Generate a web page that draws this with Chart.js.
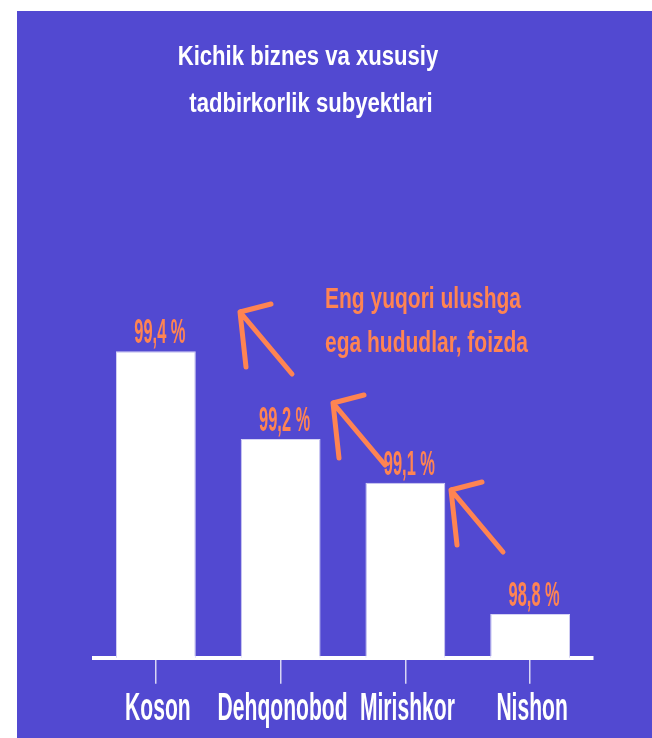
<!DOCTYPE html>
<html>
<head>
<meta charset="utf-8">
<script src="https://cdn.jsdelivr.net/npm/chart.js@4.4.0/dist/chart.umd.min.js"></script>
<style>
  html, body { margin: 0; padding: 0; background: #ffffff; }
  #bg { position: absolute; left: 17px; top: 11px; right: 0; bottom: 0; background: #5249d1; }
  #wrap { position: absolute; left: 0; top: 0; width: 652px; height: 738px; }
</style>
</head>
<body>
<div id="bg"></div>
<div id="wrap"><canvas id="regionChart"></canvas></div>
<script>
const regions = ["Koson", "Dehqonobod", "Mirishkor", "Nishon"];
const shares = [99.4, 99.2, 99.1, 98.8];
const titleLines = ["Kichik biznes va xususiy", "tadbirkorlik subyektlari"];
const noteLines = ["Eng yuqori ulushga", "ega hududlar, foizda"];

const FONT = "'Liberation Sans', Arial, sans-serif";
const ORANGE = "#ff8452";

// arrow tips (decoration only), all arrows have the same shape
const arrowTips = [[240, 312], [333, 403], [451, 490]];

// the original uses a tall narrow face, so squeeze a normal bold one
function narrowText(ctx, txt, x, y, size, sx, align) {
  ctx.save();
  ctx.font = "bold " + size + "px " + FONT;
  ctx.textAlign = align;
  ctx.textBaseline = "alphabetic";
  ctx.translate(x, y);
  ctx.scale(sx, 1);
  ctx.fillText(txt, 0, 0);
  ctx.restore();
}

const overlay = {
  id: "overlay",
  afterDraw(c) {
    const ctx = c.ctx;
    ctx.save();

    // title
    ctx.fillStyle = "#ffffff";
    narrowText(ctx, titleLines[0], 308, 65, 28, 0.79, "center");
    narrowText(ctx, titleLines[1], 311, 112, 28, 0.79, "center");

    // category labels
    const xs = c.scales.x;
    regions.forEach((r, i) => {
      narrowText(ctx, r, xs.getPixelForTick(i) + 2, 720, 38, 0.555, "center");
    });

    // note
    ctx.fillStyle = ORANGE;
    narrowText(ctx, noteLines[0], 325, 308, 30, 0.7, "left");
    narrowText(ctx, noteLines[1], 325, 352, 30, 0.7, "left");

    // value labels above bars
    c.getDatasetMeta(0).data.forEach((bar, i) => {
      const txt = shares[i].toFixed(1).replace(".", ",") + " %";
      narrowText(ctx, txt, bar.x + 4, bar.y - 8, 35, 0.47, "center");
    });

    // arrows
    ctx.strokeStyle = ORANGE;
    ctx.lineWidth = 5;
    ctx.lineCap = "round";
    ctx.lineJoin = "round";
    arrowTips.forEach(([x, y]) => {
      ctx.beginPath();
      ctx.moveTo(x + 52, y + 62);
      ctx.lineTo(x, y);
      ctx.moveTo(x + 31, y - 8);
      ctx.lineTo(x, y);
      ctx.lineTo(x + 6, y + 55);
      ctx.stroke();
    });

    ctx.restore();
  },
};

new Chart(document.getElementById("regionChart"), {
  type: "bar",
  data: {
    labels: regions,
    datasets: [
      {
        data: shares,
        backgroundColor: "#ffffff",
        borderColor: "#d4d2f4",
        borderWidth: 1,
        categoryPercentage: 1,
        barPercentage: 0.64,
      },
    ],
  },
  options: {
    responsive: true,
    maintainAspectRatio: false,
    animation: false,
    layout: {
      padding: { left: 93.5, right: 59.5, top: 150, bottom: 7 },
    },
    plugins: {
      legend: { display: false },
      tooltip: { enabled: false },
    },
    scales: {
      x: {
        grid: {
          offset: false,
          drawOnChartArea: false,
          drawTicks: true,
          tickLength: 26,
          color: "#d8d6f4",
          lineWidth: 1.5,
        },
        border: { display: true, color: "#ffffff", width: 4 },
        ticks: {
          // labels are drawn squeezed by the overlay plugin
          color: "rgba(0,0,0,0)",
          padding: 8,
          autoSkip: false,
          maxRotation: 0,
          minRotation: 0,
          font: { family: FONT, size: 26, weight: "bold" },
        },
      },
      y: {
        display: false,
        min: 98.7,
        max: 99.86,
      },
    },
  },
  plugins: [overlay],
});
</script>
</body>
</html>
